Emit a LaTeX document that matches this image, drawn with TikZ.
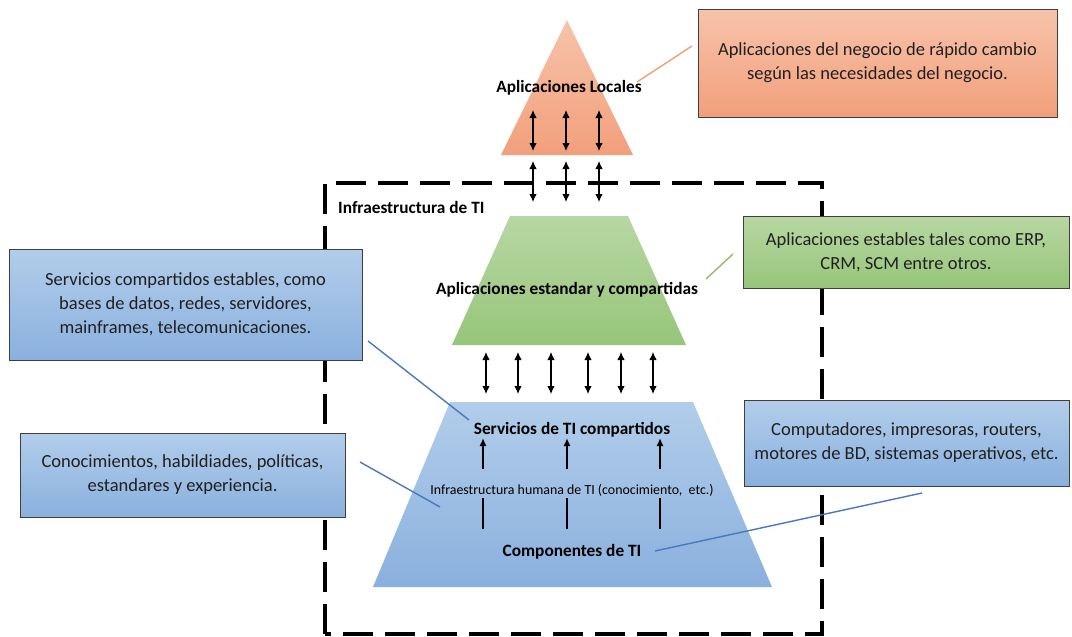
\documentclass[tikz,border=0pt]{standalone}
\usepackage{fontspec}
\setmainfont{Carlito}
\usetikzlibrary{arrows.meta}
\definecolor{txt}{HTML}{202020}
\definecolor{bord}{HTML}{3F3F3F}
\definecolor{salT}{HTML}{F7C3AB}
\definecolor{salB}{HTML}{F29F7B}
\definecolor{grnT}{HTML}{B7D7A3}
\definecolor{grnB}{HTML}{97C57A}
\definecolor{bluT}{HTML}{B2CDEA}
\definecolor{bluB}{HTML}{8AB0DE}
\definecolor{salL}{HTML}{F0A070}
\definecolor{grnL}{HTML}{8BBE68}
\definecolor{bluL}{HTML}{4A78BE}
\tikzset{
  box/.style={draw=bord, line width=0.9pt, align=center, text=txt, font=\fontsize{18.5}{24}\selectfont, inner sep=0pt},
  lbl/.style={font=\fontsize{17.3}{20}\selectfont\bfseries, text=black, inner sep=0pt},
  dbl/.style={{Latex[length=8pt,width=7.5pt]}-{Latex[length=8pt,width=7.5pt]}, line width=1.1pt},
  upar/.style={-{Latex[length=8pt,width=7pt]}, line width=1.6pt},
  plain/.style={line width=1.6pt},
  conn/.style={line width=1.4pt},
  dashbox/.style={line width=3.5pt, dash pattern=on 30pt off 12pt}
}
\begin{document}
\begin{tikzpicture}[x=1pt,y=-1pt]
\useasboundingbox (0,0) rectangle (1072,637);
% dashed infrastructure frame
\draw[dashbox] (325,634) -- (325,183) -- (822,183) -- (822,634) -- cycle;
\node[lbl, anchor=west] (infra) at (338,207) {Infraestructura de TI};
% shapes
\shade[top color=salT, bottom color=salB] (567,20) -- (633,155) -- (501,155) -- cycle;
\shade[top color=grnT, bottom color=grnB] (510,216) -- (628,216) -- (686,345) -- (452,345) -- cycle;
\shade[top color=bluT, bottom color=bluB] (450,402) -- (693,402) -- (772,587) -- (373,587) -- cycle;
% labels
\node[lbl] (loc) at (569,88) {Aplicaciones Locales};
\node[lbl] (std) at (567,290) {Aplicaciones estandar y compartidas};
\node[lbl] (serv) at (572,430) {Servicios de TI compartidos};
\node[font=\fontsize{13.9}{16}\selectfont, text=black, inner sep=0pt] (hum) at (572,490) {Infraestructura humana de TI (conocimiento,\ \ etc.)};
\node[lbl] (comp) at (572,552) {Componentes de TI};
% arrows in triangle and below it
\foreach \x [count=\i] in {533,566,599}{
  \coordinate (ta\i) at (\x,110); \coordinate (tb\i) at (\x,151);
  \draw[dbl] (ta\i) -- (tb\i);
  \coordinate (ua\i) at (\x,161); \coordinate (ub\i) at (\x,202);
  \draw[dbl] (ua\i) -- (ub\i);
}
% arrows between green and blue
\foreach \x [count=\i] in {486,518,551,588,621,653}{
  \coordinate (ga\i) at (\x,352); \coordinate (gb\i) at (\x,394);
  \draw[dbl] (ga\i) -- (gb\i);
}
% up arrows and lines in blue trapezoid
\foreach \x [count=\i] in {483,567,660}{
  \coordinate (sa\i) at (\x,469); \coordinate (sb\i) at (\x,438);
  \draw[upar] (sa\i) -- (sb\i);
  \coordinate (la\i) at (\x,498); \coordinate (lb\i) at (\x,529);
  \draw[plain] (la\i) -- (lb\i);
}
% boxes
\node[box, top color=salT, bottom color=salB, minimum width=359pt, minimum height=108pt] (bsal) at (877.5,63)
  {Aplicaciones del negocio de rápido cambio\\según las necesidades del negocio.};
\node[box, top color=grnT, bottom color=grnB, minimum width=326pt, minimum height=72pt] (bgrn) at (906,252)
  {Aplicaciones estables tales como ERP,\\CRM, SCM entre otros.};
\node[box, top color=bluT, bottom color=bluB, minimum width=353pt, minimum height=111pt] (bb1) at (185.5,304.5)
  {Servicios compartidos estables, como\\bases de datos, redes, servidores,\\mainframes, telecomunicaciones.};
\node[box, top color=bluT, bottom color=bluB, minimum width=325pt, minimum height=84pt] (bb2) at (182.5,475)
  {Conocimientos, habildiades, políticas,\\estandares y experiencia.};
\node[box, top color=bluT, bottom color=bluB, minimum width=325pt, minimum height=86pt] (bb3) at (906.5,443)
  {Computadores, impresoras, routers,\\motores de BD, sistemas operativos, etc.};
% connectors
\coordinate (c1a) at (637,82); \coordinate (c1b) at (692,46);
\draw[conn, salL] (c1a) -- (c1b);
\coordinate (c2a) at (706,279); \coordinate (c2b) at (733,254);
\draw[conn, grnL] (c2a) -- (c2b);
\coordinate (c3a) at (368,341); \coordinate (c3b) at (469,420);
\draw[conn, bluL] (c3a) -- (c3b);
\coordinate (c4a) at (360,462); \coordinate (c4b) at (440,507);
\draw[conn, bluL] (c4a) -- (c4b);
\coordinate (c5a) at (922,493); \coordinate (c5b) at (655,551);
\draw[conn, bluL] (c5a) -- (c5b);
\end{tikzpicture}
\end{document}
